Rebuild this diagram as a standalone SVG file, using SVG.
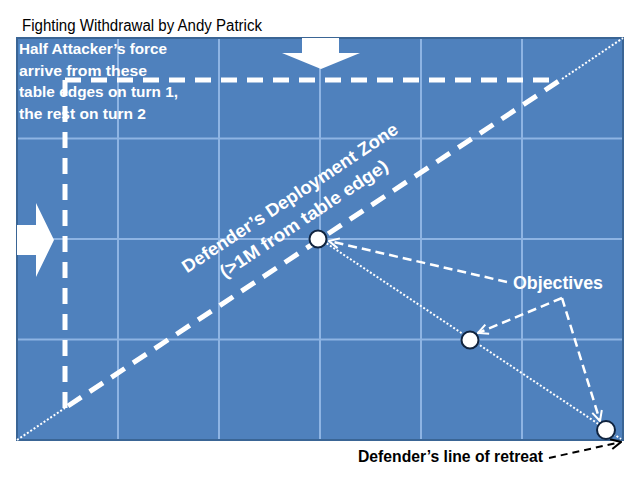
<svg xmlns="http://www.w3.org/2000/svg" width="640" height="480" viewBox="0 0 640 480">
<style>
.grid{stroke:#8eb4e3;stroke-width:2;fill:none}
.wdash{stroke:#ffffff;stroke-width:5;stroke-dasharray:16 10;fill:none}
.wdot{stroke:#ffffff;stroke-width:2;stroke-dasharray:2 2;fill:none}
.thin{stroke:#ffffff;stroke-width:2.5;stroke-dasharray:9 5;fill:none}
.wt{font-family:"Liberation Sans",Arial,sans-serif;font-weight:bold;fill:#ffffff}
.bt{font-family:"Liberation Sans",Arial,sans-serif;fill:#000000}
.obj{fill:#ffffff;stroke:#10243f;stroke-width:2}
</style>
<defs>
<marker id="wh" viewBox="0 0 12 12" refX="11" refY="6" markerWidth="12" markerHeight="12" markerUnits="userSpaceOnUse" orient="auto">
<path d="M1,1 L11,6 L1,11" fill="none" stroke="#ffffff" stroke-width="2"/>
</marker>
<marker id="bh" viewBox="0 0 12 12" refX="11" refY="6" markerWidth="12" markerHeight="12" markerUnits="userSpaceOnUse" orient="auto">
<path d="M1,1 L11,6 L1,11" fill="none" stroke="#000000" stroke-width="2"/>
</marker>
</defs>
<rect width="640" height="480" fill="#ffffff"/>
<text class="bt" x="22" y="31" font-size="16" textLength="240" lengthAdjust="spacingAndGlyphs">Fighting Withdrawal by Andy Patrick</text>
<g id="board">
<rect x="17" y="38" width="606" height="402" fill="#4f81bd" stroke="#3a6595" stroke-width="2"/>
<path class="grid" d="M118,39V439M219,39V439M320,39V439M421,39V439M522,39V439M18,138.5H622M18,239H622M18,339.5H622"/>
</g>
<g id="arrows">
<polygon points="302,38 339,38 339,53 360,53 321,69 282,53 302,53" fill="#ffffff"/>
<polygon points="17,225 36,225 36,203 54,240 36,277 36,255 17,255" fill="#ffffff"/>
</g>
<g id="connectors">
<path class="wdot" d="M17,440 L65,408"/>
<path class="wdot" d="M562,79 L623,38"/>
<path class="wdash" d="M68,406 L562,79"/>
<path class="wdash" d="M65,80 H550"/>
<path class="wdash" d="M65,80 V410"/>
<path class="wdot" d="M320,239 L621,439"/>
<path class="thin" d="M507,282 L329,241" marker-end="url(#wh)"/>
<path class="thin" d="M562,298 L478,333" marker-end="url(#wh)"/>
<path class="thin" d="M562,298 L600,421" marker-end="url(#wh)"/>
<path d="M549,458 L621,442" stroke="#000000" stroke-width="2" stroke-dasharray="7 5" fill="none" marker-end="url(#bh)"/>
</g>
<g id="objective1"><circle class="obj" cx="318" cy="239" r="8.5"/></g>
<g id="objective2"><circle class="obj" cx="470" cy="340" r="8.5"/></g>
<g id="objective3"><circle class="obj" cx="606" cy="430" r="9"/></g>
<g id="label-attacker">
<text class="wt" font-size="15.5"><tspan x="19" y="54" textLength="148" lengthAdjust="spacingAndGlyphs">Half Attacker’s force</tspan><tspan x="19" y="75.5" textLength="128" lengthAdjust="spacingAndGlyphs">arrive from these</tspan><tspan x="19" y="97" textLength="159" lengthAdjust="spacingAndGlyphs">table edges on turn 1,</tspan><tspan x="19" y="118.5" textLength="127" lengthAdjust="spacingAndGlyphs">the rest on turn 2</tspan></text>
</g>
<g id="label-zone" transform="translate(290,198) rotate(-33.6)">
<text class="wt" font-size="18" text-anchor="middle"><tspan x="0" y="6" textLength="255" lengthAdjust="spacingAndGlyphs">Defender’s Deployment Zone</tspan><tspan x="0" y="31" textLength="198" lengthAdjust="spacingAndGlyphs">(&gt;1M from table edge)</tspan></text>
</g>
<g id="label-objectives">
<text class="wt" x="513" y="289" font-size="18" textLength="90" lengthAdjust="spacingAndGlyphs">Objectives</text>
</g>
<g id="label-retreat">
<text class="bt" x="358" y="462" font-size="16" font-weight="bold" textLength="185" lengthAdjust="spacingAndGlyphs">Defender’s line of retreat</text>
</g>
</svg>
